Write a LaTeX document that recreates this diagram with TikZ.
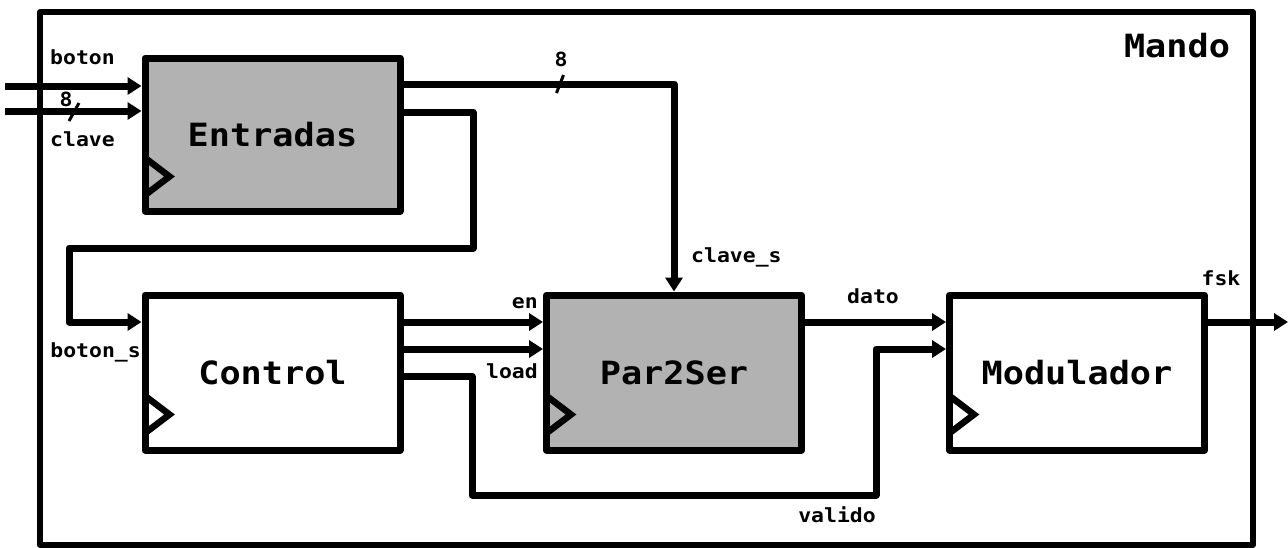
\documentclass[tikz,border=0pt]{standalone}
\usepackage{fontspec}
\newfontfamily\dmono[FakeStretch=1.1]{DejaVu Sans Mono}
\usetikzlibrary{arrows.meta,calc}
\begin{document}
\begin{tikzpicture}[x=1pt,y=-1pt,
  box/.style={draw, line width=7pt, line join=round, minimum width=255pt, minimum height=155pt,
    font=\dmono\bfseries\fontsize{32}{36}\selectfont, inner sep=0pt},
  graybox/.style={box, fill=black!30},
  wire/.style={line width=7pt, line join=round},
  arr/.style={wire, -{Triangle[length=14pt,width=17pt]}},
  lbl/.style={font=\dmono\bfseries\fontsize{19.5}{22}\selectfont, inner sep=0pt},
  title/.style={font=\dmono\bfseries\fontsize{32}{36}\selectfont, inner sep=0pt},
  clk/.style={line width=6.5pt, line join=miter},
  slash/.style={line width=3pt}]
\useasboundingbox (0,0) rectangle (1288,547);
% frame
\node[draw, line width=5.5pt, line join=round, minimum width=1213pt, minimum height=533pt, inner sep=0pt] (frame) at (646.5,278.5) {};
\node[title, anchor=base] (mando) at (1177,57) {Mando};
% blocks
\node[graybox, minimum height=153pt] (ent) at (272.5,134.5) {Entradas};
\node[box] (ctl) at (272.5,372.5) {Control};
\node[graybox] (p2s) at (674,372.5) {Par2Ser};
\node[box] (mod) at (1077,372.5) {Modulador};
% clocks
\foreach \b/\dy in {ent/0,ctl/1,p2s/1,mod/1}
  \draw[clk] ([xshift=3pt,yshift=19pt+\dy pt]\b.south west) -- ([xshift=28pt,yshift=38pt+\dy pt]\b.south west) -- ([xshift=3pt,yshift=57pt+\dy pt]\b.south west);
% coordinates
\coordinate (bin) at (5,86);
\coordinate (cin) at (5,111);
\coordinate (s1) at (74,112);
\coordinate (s2) at (560,84);
\coordinate (b1) at (473,248);
\coordinate (b2) at (69,248);
\coordinate (v1) at (472,495);
\coordinate (v2) at (876,495);
\coordinate (fout) at (1288,322);
% connectors
\draw[arr] (bin) -- (bin -| ent.west);
\draw[arr] (cin) -- (cin -| ent.west);
\draw[slash] ([xshift=-5pt,yshift=-9pt]s1) -- ([xshift=5pt,yshift=9pt]s1);
\draw[arr] ([yshift=50.5pt]ent.east) -| (p2s.north);
\draw[slash] ([xshift=-3.5pt,yshift=-9pt]s2) -- ([xshift=3.5pt,yshift=9pt]s2);
\draw[arr] ([yshift=22.5pt]ent.east) -| (b1) -- (b2) |- ([yshift=50.5pt]ctl.west);
\draw[arr] ([yshift=50.5pt]ctl.east) -- ([yshift=50.5pt]p2s.west);
\draw[arr] ([yshift=23.5pt]ctl.east) -- ([yshift=23.5pt]p2s.west);
\draw[arr] ([yshift=-4pt]ctl.east) -| (v1) -- (v2) |- ([yshift=23.5pt]mod.west);
\draw[arr] ([yshift=50.5pt]p2s.east) -- ([yshift=50.5pt]mod.west);
\draw[arr] ([yshift=50.5pt]mod.east) -- (fout);
% labels
\node[lbl, anchor=base west] (lboton) at (50,64) {boton};
\node[lbl, anchor=base] (l8a) at (66,106) {8};
\node[lbl, anchor=base west] (lclave) at (50,146) {clave};
\node[lbl, anchor=base] (l8b) at (561,66) {8};
\node[lbl, anchor=base west] (lclaves) at (691,262) {clave\_s};
\node[lbl, anchor=base east] (lbotons) at (141,357) {boton\_s};
\node[lbl, anchor=base east] (len) at (538,308) {en};
\node[lbl, anchor=base east] (lload) at (538,378) {load};
\node[lbl, anchor=base] (ldato) at (873,303) {dato};
\node[lbl, anchor=base] (lfsk) at (1221,285) {fsk};
\node[lbl, anchor=base] (lvalido) at (837,522) {valido};
\end{tikzpicture}
\end{document}
